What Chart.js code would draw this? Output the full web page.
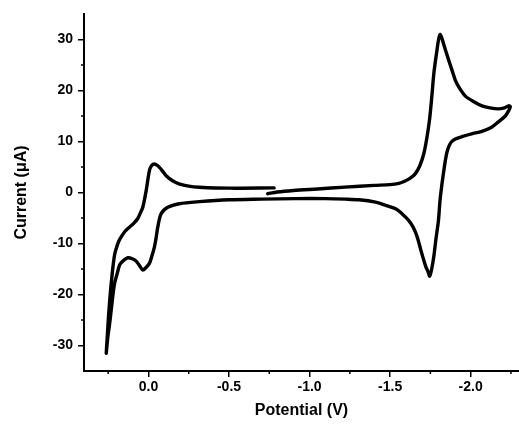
<!DOCTYPE html>
<html>
<head>
<meta charset="utf-8">
<script src="https://cdn.jsdelivr.net/npm/chart.js@4/dist/chart.umd.min.js"></script>
<style>
  html, body { margin: 0; padding: 0; background: #fff; }
</style>
</head>
<body>
<canvas id="grafico" width="519" height="432"></canvas>
<script>
// Voltamograma cíclico — varredura catódica, retorno e fechamento do ciclo

// varredura de ida (de -0.74 V até -2.25 V)
const idaV = [-0.74, -0.80, -0.90, -1.05, -1.22, -1.40, -1.50, -1.555, -1.59, -1.625, -1.657, -1.685, -1.709, -1.727, -1.744, -1.758, -1.772, -1.79, -1.802, -1.811, -1.822, -1.835, -1.86, -1.885, -1.905, -1.93, -1.967, -2.02, -2.07, -2.12, -2.17, -2.21, -2.235, -2.246];
const idaI = [-0.25, 0.1, 0.4, 0.7, 1.05, 1.4, 1.55, 1.8, 2.2, 2.8, 3.7, 5.3, 7.6, 10.5, 14.1, 18.5, 23.5, 27.7, 30.2, 31.0, 30.2, 28.8, 26.3, 23.9, 22.0, 20.5, 18.9, 17.8, 17.0, 16.6, 16.4, 16.6, 17.0, 16.8];

// varredura de volta (de -2.25 V até +0.26 V)
const voltaV = [-2.235, -2.215, -2.17, -2.13, -2.07, -2.006, -1.95, -1.905, -1.88, -1.864, -1.852, -1.843, -1.833, -1.822, -1.81, -1.80, -1.785, -1.771, -1.758, -1.746, -1.735, -1.722, -1.709, -1.69, -1.668, -1.645, -1.616, -1.575, -1.534, -1.47, -1.41, -1.307, -1.224, -1.10, -0.914, -0.70, -0.50, -0.316, -0.192, -0.12, -0.078, -0.058, -0.047, -0.037, -0.02, -0.006, 0.015, 0.035, 0.05, 0.075, 0.10, 0.128, 0.15, 0.17, 0.18, 0.195, 0.21, 0.22, 0.231, 0.242, 0.252, 0.262];
const voltaI = [16.0, 15.0, 13.8, 12.8, 12.0, 11.5, 11.0, 10.5, 9.9, 9.0, 7.8, 6.3, 4.2, 1.7, -1.5, -5.5, -9.0, -12.6, -15.0, -16.4, -15.5, -14.6, -13.3, -11.2, -8.7, -6.9, -5.5, -4.2, -3.2, -2.5, -1.9, -1.43, -1.3, -1.2, -1.2, -1.3, -1.43, -1.8, -2.2, -2.9, -4.2, -6.8, -9.0, -10.7, -12.6, -13.9, -14.7, -15.2, -14.6, -13.5, -13.0, -12.8, -13.2, -13.8, -14.3, -16.0, -17.8, -20.0, -23.0, -26.0, -28.3, -31.5];

// retorno (de +0.26 V até -0.78 V)
const retornoV = [0.255, 0.248, 0.24, 0.231, 0.22, 0.21, 0.20, 0.185, 0.169, 0.145, 0.118, 0.09, 0.066, 0.05, 0.035, 0.014, -0.006, -0.02, -0.037, -0.06, -0.085, -0.11, -0.15, -0.19, -0.25, -0.316, -0.50, -0.78];
const retornoI = [-28.0, -24.4, -21.0, -17.8, -14.5, -12.2, -11.0, -9.6, -8.7, -7.6, -6.8, -6.0, -5.1, -4.0, -2.9, 0.4, 4.3, 5.3, 5.6, 5.2, 4.3, 3.3, 2.3, 1.7, 1.25, 1.04, 0.85, 0.9];

const X_TICKS = [0, -0.5, -1.0, -1.5, -2.0];
const X_MENORES = [0.25, -0.25, -0.75, -1.25, -1.75, -2.25];
const Y_TICKS = [-30, -20, -10, 0, 10, 20, 30];
const Y_MENORES = [-25, -15, -5, 5, 15, 25];

const FONTE = "'Liberation Sans', Arial, sans-serif";

const pontos = [];
[[idaV, idaI], [voltaV, voltaI], [retornoV, retornoI]].forEach(([vs, is]) => {
  vs.forEach((v, i) => pontos.push({ x: v, y: is[i] }));
});

// traços menores dos eixos (o Chart.js só desenha um tamanho de traço)
const tracosMenores = {
  id: 'tracosMenores',
  afterDraw(chart) {
    const { ctx, scales: { x, y } } = chart;
    ctx.save();
    ctx.strokeStyle = '#000';
    ctx.lineWidth = 1.5;
    ctx.beginPath();
    X_MENORES.forEach((v) => {
      const px = x.getPixelForValue(v);
      ctx.moveTo(px, y.bottom);
      ctx.lineTo(px, y.bottom + 3);
    });
    Y_MENORES.forEach((v) => {
      const py = y.getPixelForValue(v);
      ctx.moveTo(x.left, py);
      ctx.lineTo(x.left - 3, py);
    });
    ctx.stroke();
    ctx.restore();
  }
};

new Chart(document.getElementById('grafico'), {
  type: 'scatter',
  data: {
    datasets: [{
      data: pontos,
      showLine: true,
      borderColor: '#000',
      borderWidth: 3.4,
      pointRadius: 0,
      tension: 0.3,
      borderJoinStyle: 'round',
      borderCapStyle: 'round'
    }]
  },
  options: {
    responsive: false,
    animation: false,
    layout: { padding: { top: 14, right: 0, bottom: 0, left: 0 } },
    plugins: { legend: { display: false }, tooltip: { enabled: false } },
    scales: {
      x: {
        type: 'linear',
        reverse: true,
        min: -2.3,
        max: 0.4,
        afterBuildTicks: (scale) => { scale.ticks = X_TICKS.map((v) => ({ value: v })); },
        afterFit: (scale) => { scale.height = 61; },
        ticks: {
          color: '#000',
          padding: 2,
          font: { family: FONTE, size: 14, weight: 'bold' },
          callback: (v) => Number(v).toFixed(1)
        },
        grid: { drawOnChartArea: false, tickLength: 6, color: '#000', lineWidth: 1.5 },
        border: { color: '#000', width: 2 },
        title: {
          display: true,
          text: 'Potential (V)',
          color: '#000',
          font: { family: FONTE, size: 16, weight: 'bold' },
          padding: { top: 12, bottom: 12 }
        }
      },
      y: {
        type: 'linear',
        min: -35,
        max: 35,
        afterBuildTicks: (scale) => { scale.ticks = Y_TICKS.map((v) => ({ value: v })); },
        afterFit: (scale) => { scale.width = 84; },
        ticks: {
          color: '#000',
          padding: 5,
          font: { family: FONTE, size: 14, weight: 'bold' },
          callback: (v) => String(v)
        },
        grid: { drawOnChartArea: false, tickLength: 6, color: '#000', lineWidth: 1.5 },
        border: { color: '#000', width: 2 },
        title: {
          display: true,
          text: 'Current (μA)',
          color: '#000',
          font: { family: FONTE, size: 16, weight: 'bold' },
          padding: { top: 12, bottom: 12 }
        }
      }
    }
  },
  plugins: [tracosMenores]
});
</script>
</body>
</html>
